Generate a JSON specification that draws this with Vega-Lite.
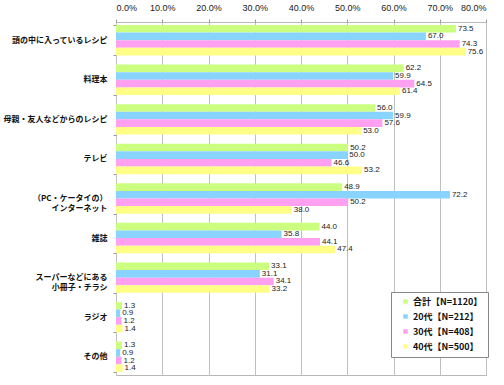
{
  "$schema": "https://vega.github.io/schema/vega-lite/v6.json",
  "width": 370,
  "height": 353,
  "autosize": {"type": "none"},
  "padding": {"left": 116, "top": 22, "right": 18, "bottom": 10},
  "background": "white",
  "config": {
    "view": {"stroke": "#b8b8b8", "strokeWidth": 1},
    "font": "Liberation Sans"
  },
  "data": {
    "values": [
      {"cat": "頭の中に入っているレシピ", "grp": "合計【N=1120】", "v": 73.5},
      {"cat": "頭の中に入っているレシピ", "grp": "20代【N=212】", "v": 67.0},
      {"cat": "頭の中に入っているレシピ", "grp": "30代【N=408】", "v": 74.3},
      {"cat": "頭の中に入っているレシピ", "grp": "40代【N=500】", "v": 75.6},
      {"cat": "料理本", "grp": "合計【N=1120】", "v": 62.2},
      {"cat": "料理本", "grp": "20代【N=212】", "v": 59.9},
      {"cat": "料理本", "grp": "30代【N=408】", "v": 64.5},
      {"cat": "料理本", "grp": "40代【N=500】", "v": 61.4},
      {"cat": "母親・友人などからのレシピ", "grp": "合計【N=1120】", "v": 56.0},
      {"cat": "母親・友人などからのレシピ", "grp": "20代【N=212】", "v": 59.9},
      {"cat": "母親・友人などからのレシピ", "grp": "30代【N=408】", "v": 57.6},
      {"cat": "母親・友人などからのレシピ", "grp": "40代【N=500】", "v": 53.0},
      {"cat": "テレビ", "grp": "合計【N=1120】", "v": 50.2},
      {"cat": "テレビ", "grp": "20代【N=212】", "v": 50.0},
      {"cat": "テレビ", "grp": "30代【N=408】", "v": 46.6},
      {"cat": "テレビ", "grp": "40代【N=500】", "v": 53.2},
      {"cat": "（PC・ケータイの）|インターネット\u3000", "grp": "合計【N=1120】", "v": 48.9},
      {"cat": "（PC・ケータイの）|インターネット\u3000", "grp": "20代【N=212】", "v": 72.2},
      {"cat": "（PC・ケータイの）|インターネット\u3000", "grp": "30代【N=408】", "v": 50.2},
      {"cat": "（PC・ケータイの）|インターネット\u3000", "grp": "40代【N=500】", "v": 38.0},
      {"cat": "雑誌", "grp": "合計【N=1120】", "v": 44.0},
      {"cat": "雑誌", "grp": "20代【N=212】", "v": 35.8},
      {"cat": "雑誌", "grp": "30代【N=408】", "v": 44.1},
      {"cat": "雑誌", "grp": "40代【N=500】", "v": 47.4},
      {"cat": "スーパーなどにある|小冊子・チラシ\u3000", "grp": "合計【N=1120】", "v": 33.1},
      {"cat": "スーパーなどにある|小冊子・チラシ\u3000", "grp": "20代【N=212】", "v": 31.1},
      {"cat": "スーパーなどにある|小冊子・チラシ\u3000", "grp": "30代【N=408】", "v": 34.1},
      {"cat": "スーパーなどにある|小冊子・チラシ\u3000", "grp": "40代【N=500】", "v": 33.2},
      {"cat": "ラジオ", "grp": "合計【N=1120】", "v": 1.3},
      {"cat": "ラジオ", "grp": "20代【N=212】", "v": 0.9},
      {"cat": "ラジオ", "grp": "30代【N=408】", "v": 1.2},
      {"cat": "ラジオ", "grp": "40代【N=500】", "v": 1.4},
      {"cat": "その他", "grp": "合計【N=1120】", "v": 1.3},
      {"cat": "その他", "grp": "20代【N=212】", "v": 0.9},
      {"cat": "その他", "grp": "30代【N=408】", "v": 1.2},
      {"cat": "その他", "grp": "40代【N=500】", "v": 1.4}
    ]
  },
  "encoding": {
    "y": {
      "field": "cat",
      "type": "nominal",
      "sort": null,
      "scale": {"paddingInner": 0.23, "paddingOuter": 0.076},
      "axis": {
        "title": null,
        "orient": "left",
        "domain": false,
        "ticks": true,
        "tickBand": "extent",
        "tickSize": 3,
        "tickColor": "#999999",
        "labelFont": "Noto Sans CJK JP",
        "labelFontSize": 8,
        "labelFontWeight": "bold",
        "labelColor": "#111111",
        "labelPadding": 6,
        "labelLineHeight": 10,
        "labelExpr": "split(datum.label, '|')"
      }
    },
    "yOffset": {
      "field": "grp",
      "type": "nominal",
      "sort": null,
      "scale": {"paddingInner": 0, "paddingOuter": 0}
    },
    "x": {
      "field": "v",
      "type": "quantitative",
      "scale": {"domain": [0, 80], "nice": false},
      "axis": {
        "title": null,
        "orient": "top",
        "domain": false,
        "grid": true,
        "gridColor": "#c0c0c0",
        "ticks": true,
        "tickSize": 3,
        "tickColor": "#999999",
        "values": [0, 10, 20, 30, 40, 50, 60, 70, 80],
        "labelExpr": "format(datum.value, '.1f') + '%'",
        "labelFont": "Liberation Sans",
        "labelFontSize": 9,
        "labelColor": "#222222",
        "labelPadding": 7
      }
    }
  },
  "layer": [
    {
      "mark": {"type": "bar"},
      "encoding": {
        "color": {
          "field": "grp",
          "type": "nominal",
          "sort": null,
          "scale": {
            "domain": ["合計【N=1120】", "20代【N=212】", "30代【N=408】", "40代【N=500】"],
            "range": ["#ccff80", "#88d4ff", "#ffa0f0", "#ffff88"]
          },
          "legend": {
            "title": null,
            "orient": "none",
            "legendX": 275,
            "legendY": 270,
            "strokeColor": "#888888",
            "fillColor": "white",
            "padding": 5,
            "symbolType": "square",
            "symbolSize": 20,
            "symbolStrokeWidth": 0,
            "symbolOffset": 5,
            "labelOffset": 3,
            "labelFont": "Noto Sans CJK JP",
            "labelFontSize": 9,
            "labelFontWeight": "bold",
            "labelColor": "#111111",
            "rowPadding": 5
          }
        }
      }
    },
    {
      "mark": {"type": "text", "align": "left", "baseline": "middle", "dx": 2, "fontSize": 8, "font": "Liberation Sans", "fill": "#222222"},
      "encoding": {"text": {"field": "v", "type": "quantitative", "format": ".1f"}}
    }
  ]
}
